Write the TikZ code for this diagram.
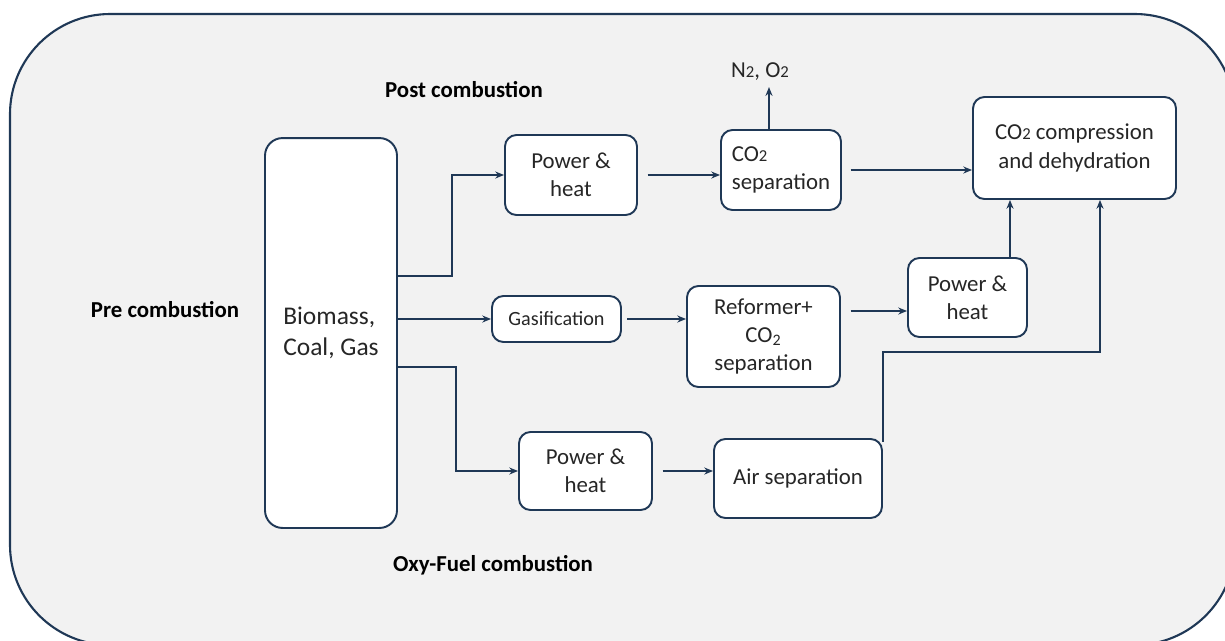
\documentclass[tikz,border=0pt]{standalone}
\usepackage{fontspec}
\setmainfont{Carlito}
\usetikzlibrary{arrows.meta}
\definecolor{navy}{RGB}{31,56,86}
\definecolor{bggray}{RGB}{242,242,242}
\definecolor{txt}{RGB}{38,38,38}
\newcommand{\smtwo}{{\fontsize{9.5pt}{10pt}\selectfont 2}}
\begin{document}
\begin{tikzpicture}[x=0.02cm,y=-0.02cm,
  box/.style={draw=navy,line width=1.1pt,fill=white,rounded corners=6.5pt,inner sep=2pt,align=center,text=txt,font=\fontsize{13pt}{16pt}\selectfont},
  arr/.style={draw=navy,line width=0.95pt,-{Stealth[length=5pt,width=4pt]}},
  lbl/.style={font=\fontsize{13pt}{16pt}\selectfont\bfseries,text=black}]
\useasboundingbox (0,0) rectangle (1225,640);
\begin{scope}
\clip (0,0) rectangle (1225,640);
\draw[navy,line width=1.2pt,fill=bggray,rounded corners=57pt] (10,14) rectangle (1235,645);
\end{scope}

% nodes
\node[box,minimum width=2.64cm,minimum height=7.8cm,rounded corners=10pt,align=left,font=\fontsize{14.5pt}{17.5pt}\selectfont] (bio) at (331,333) {Biomass,\\Coal, Gas};
\node[box,minimum width=2.64cm,minimum height=1.6cm] (ph1) at (571,175) {Power \&\\heat};
\node[box,minimum width=2.4cm,minimum height=1.6cm,align=left] (sep) at (781,170) {CO\smtwo\\separation};
\node[box,minimum width=4.06cm,minimum height=2.04cm] (comp) at (1074.5,148) {CO\smtwo{} compression\\and dehydration};
\node[box,minimum width=2.38cm,minimum height=1.58cm] (ph2) at (967.5,297.5) {Power \&\\heat};
\node[box,minimum width=2.58cm,minimum height=0.92cm,font=\fontsize{11.5pt}{14pt}\selectfont] (gas) at (556.5,319) {Gasification};
\node[box,minimum width=3.06cm,minimum height=2.02cm] (ref) at (763.5,336.5) {Reformer+\\CO\textsubscript{2}\\separation};
\node[box,minimum width=2.66cm,minimum height=1.56cm] (ph3) at (585.5,471) {Power \&\\heat};
\node[box,minimum width=3.36cm,minimum height=1.58cm] (air) at (798,478.5) {Air separation};

% labels
\node[lbl] (post) at (464,90) {Post combustion};
\node[lbl] (pre) at (165,310) {Pre combustion};
\node[lbl] (oxy) at (493,565) {Oxy-Fuel combustion};
\node[text=txt,font=\fontsize{13pt}{16pt}\selectfont] (n2) at (760,72) {N\smtwo, O\smtwo};

% connectors
\draw[arr] (bio.east |- 0,276) -- (452,276) |- (ph1.west);
\draw[arr] (bio.east |- gas.west) -- (gas.west);
\draw[arr] (bio.east |- 0,367) -- (456,367) |- (ph3.west);
\draw[arr,shorten <=5.5pt] (ph1.east) -- (sep.west |- ph1.east);
\draw[arr,shorten <=5pt] (sep.east) -- (comp.west |- sep.east);
\draw[arr] (sep.north -| 769,0) -- (n2.south -| 769,0);
\draw[arr,shorten <=3pt] (gas.east) -- (ref.west |- gas.east);
\draw[arr,shorten <=5.5pt] (ref.east |- 0,311) -- (ph2.west |- 0,311);
\draw[arr] (ph2.north -| 1010,0) -- (comp.south -| 1010,0);
\draw[arr] ([yshift=-2pt]air.north east) |- (1100,352) -- (comp.south -| 1100,0);
\draw[arr,shorten <=5.5pt] (ph3.east) -- (air.west |- ph3.east);
\end{tikzpicture}
\end{document}
